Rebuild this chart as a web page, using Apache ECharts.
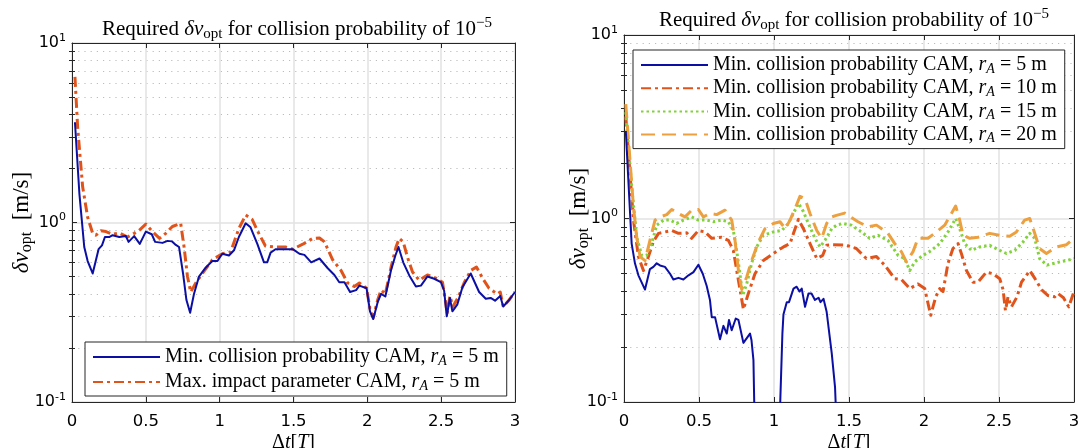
<!DOCTYPE html>
<html><head><meta charset="utf-8">
<script src="https://cdn.jsdelivr.net/npm/echarts@6/dist/echarts.min.js"></script>
<style>html,body{margin:0;padding:0;background:#fff}#c{width:1079px;height:448px}</style>
</head><body><div id="c"></div><script>
// ---- data ----
var xTicks = [0, 0.5, 1, 1.5, 2, 2.5, 3];
var yMajor = [0.1, 1, 10];
var yMinor = [0.2,0.3,0.4,0.5,0.6,0.7,0.8,0.9,2,3,4,5,6,7,8,9];

var leftMinPc = [[0.02,3.62],[0.05,1.45],[0.083,0.73],[0.106,0.61],[0.14,0.52],[0.18,0.71],[0.203,0.745],[0.223,0.83],[0.252,0.83],[0.275,0.85],[0.32,0.83],[0.365,0.84],[0.383,0.78],[0.421,0.84],[0.459,0.76],[0.5,0.89],[0.54,0.86],[0.563,0.78],[0.613,0.77],[0.647,0.79],[0.676,0.785],[0.703,0.75],[0.725,0.73],[0.752,0.52],[0.775,0.37],[0.8,0.314],[0.826,0.4],[0.86,0.5],[0.905,0.56],[0.95,0.61],[0.985,0.61],[1.018,0.67],[1.063,0.655],[1.097,0.7],[1.13,0.83],[1.176,0.99],[1.209,0.94],[1.255,0.76],[1.3,0.6],[1.322,0.6],[1.345,0.68],[1.378,0.71],[1.446,0.71],[1.495,0.71],[1.54,0.67],[1.574,0.66],[1.62,0.6],[1.676,0.63],[1.732,0.556],[1.777,0.51],[1.81,0.465],[1.845,0.465],[1.883,0.41],[1.924,0.42],[1.946,0.445],[1.995,0.43],[2.018,0.32],[2.04,0.29],[2.07,0.36],[2.093,0.4],[2.122,0.387],[2.16,0.54],[2.19,0.655],[2.211,0.73],[2.243,0.6],[2.284,0.507],[2.329,0.44],[2.363,0.445],[2.407,0.5],[2.453,0.486],[2.498,0.465],[2.52,0.418],[2.538,0.3],[2.559,0.38],[2.576,0.32],[2.61,0.35],[2.644,0.436],[2.7,0.52],[2.757,0.41],[2.802,0.376],[2.835,0.38],[2.865,0.367],[2.9,0.39],[2.92,0.34],[2.96,0.37],[3.0,0.41]];
var leftMaxIp = [[0.02,6.47],[0.038,3.41],[0.072,1.58],[0.106,1.07],[0.14,0.87],[0.162,0.85],[0.196,0.9],[0.23,0.89],[0.275,0.86],[0.32,0.875],[0.376,0.83],[0.421,0.87],[0.455,0.905],[0.5,0.98],[0.545,0.89],[0.593,0.815],[0.635,0.87],[0.68,0.95],[0.736,0.99],[0.759,0.73],[0.782,0.5],[0.804,0.41],[0.838,0.46],[0.883,0.52],[0.95,0.62],[1.018,0.67],[1.074,0.685],[1.13,0.925],[1.176,1.1],[1.22,1.04],[1.265,0.87],[1.31,0.74],[1.378,0.73],[1.446,0.73],[1.495,0.71],[1.563,0.757],[1.63,0.815],[1.676,0.82],[1.71,0.78],[1.765,0.62],[1.822,0.54],[1.867,0.46],[1.912,0.44],[1.946,0.46],[1.995,0.43],[2.018,0.33],[2.04,0.295],[2.07,0.37],[2.093,0.42],[2.122,0.4],[2.16,0.56],[2.194,0.73],[2.216,0.815],[2.243,0.78],[2.272,0.64],[2.306,0.53],[2.351,0.477],[2.407,0.51],[2.464,0.49],[2.509,0.465],[2.532,0.35],[2.54,0.31],[2.559,0.39],[2.58,0.34],[2.62,0.39],[2.655,0.46],[2.7,0.54],[2.739,0.565],[2.78,0.49],[2.824,0.43],[2.88,0.4],[2.9,0.41],[2.92,0.34],[2.96,0.37],[3.0,0.41]];

var rightR5 = [[0.012,3.0],[0.051,0.73],[0.073,0.57],[0.096,0.49],[0.14,0.41],[0.173,0.53],[0.196,0.545],[0.218,0.57],[0.24,0.555],[0.273,0.545],[0.307,0.5],[0.329,0.465],[0.363,0.475],[0.396,0.465],[0.43,0.49],[0.463,0.51],[0.496,0.56],[0.525,0.5],[0.551,0.43],[0.573,0.36],[0.585,0.29],[0.607,0.29],[0.64,0.22],[0.663,0.26],[0.685,0.236],[0.7,0.28],[0.718,0.246],[0.745,0.285],[0.763,0.28],[0.796,0.21],[0.84,0.236],[0.85,0.217],[0.863,0.169],[0.875,0.05],[1.03,0.05],[1.056,0.236],[1.063,0.3],[1.085,0.35],[1.1,0.35],[1.13,0.415],[1.151,0.425],[1.17,0.4],[1.185,0.415],[1.207,0.33],[1.23,0.39],[1.25,0.39],[1.273,0.36],[1.297,0.37],[1.31,0.35],[1.33,0.365],[1.351,0.31],[1.385,0.184],[1.407,0.12],[1.43,0.04]];
var rightR10 = [[0.012,3.6],[0.063,0.98],[0.096,0.62],[0.13,0.52],[0.163,0.62],[0.196,0.75],[0.23,0.83],[0.273,0.845],[0.318,0.86],[0.363,0.83],[0.418,0.835],[0.451,0.78],[0.496,0.86],[0.54,0.845],[0.585,0.78],[0.651,0.79],[0.696,0.76],[0.729,0.67],[0.763,0.46],[0.796,0.32],[0.829,0.39],[0.873,0.5],[0.929,0.59],[0.996,0.645],[1.063,0.7],[1.107,0.73],[1.13,0.83],[1.163,0.99],[1.196,0.88],[1.24,0.73],[1.285,0.605],[1.325,0.63],[1.351,0.715],[1.393,0.72],[1.483,0.715],[1.549,0.686],[1.616,0.605],[1.683,0.62],[1.738,0.557],[1.805,0.47],[1.85,0.465],[1.905,0.415],[1.96,0.44],[2.005,0.415],[2.027,0.344],[2.045,0.297],[2.078,0.374],[2.105,0.415],[2.127,0.4],[2.16,0.57],[2.193,0.686],[2.227,0.73],[2.249,0.645],[2.283,0.52],[2.327,0.45],[2.36,0.45],[2.416,0.51],[2.46,0.5],[2.505,0.47],[2.527,0.41],[2.543,0.315],[2.56,0.374],[2.583,0.33],[2.62,0.374],[2.65,0.45],[2.705,0.52],[2.74,0.47],[2.783,0.41],[2.827,0.38],[2.871,0.374],[2.893,0.39],[2.93,0.37],[2.965,0.33],[3.0,0.4]];
var rightR15 = [[0.012,3.8],[0.051,1.49],[0.085,0.79],[0.118,0.63],[0.151,0.63],[0.185,0.73],[0.218,0.92],[0.263,0.98],[0.307,0.98],[0.351,0.94],[0.396,0.98],[0.451,1.02],[0.496,0.98],[0.551,0.98],[0.596,0.96],[0.651,0.98],[0.696,0.96],[0.729,0.86],[0.751,0.67],[0.773,0.5],[0.791,0.38],[0.818,0.44],[0.851,0.57],[0.885,0.7],[0.929,0.81],[0.996,0.845],[1.051,0.86],[1.096,0.94],[1.129,1.065],[1.163,1.21],[1.196,1.09],[1.229,0.94],[1.273,0.78],[1.307,0.7],[1.34,0.76],[1.385,0.88],[1.418,0.92],[1.46,0.94],[1.516,0.92],[1.583,0.845],[1.638,0.78],[1.693,0.81],[1.76,0.76],[1.827,0.63],[1.871,0.605],[1.905,0.52],[1.938,0.58],[1.993,0.63],[2.038,0.66],[2.105,0.73],[2.16,0.845],[2.211,1.0],[2.238,0.88],[2.271,0.73],[2.316,0.67],[2.371,0.7],[2.438,0.715],[2.505,0.67],[2.549,0.645],[2.605,0.67],[2.66,0.745],[2.705,0.83],[2.738,0.78],[2.771,0.605],[2.82,0.557],[2.905,0.58],[2.95,0.59],[3.0,0.605]];
var rightR20 = [[0.012,4.2],[0.063,1.16],[0.085,0.79],[0.107,0.62],[0.14,0.59],[0.173,0.76],[0.207,0.98],[0.24,1.02],[0.285,1.05],[0.318,1.12],[0.363,1.065],[0.407,1.02],[0.451,1.11],[0.496,1.12],[0.529,1.02],[0.573,1.065],[0.618,1.05],[0.673,1.11],[0.718,0.98],[0.74,0.76],[0.763,0.52],[0.785,0.41],[0.818,0.48],[0.851,0.59],[0.896,0.745],[0.94,0.88],[0.996,0.94],[1.04,0.96],[1.075,0.88],[1.107,0.98],[1.14,1.13],[1.173,1.32],[1.207,1.28],[1.24,1.065],[1.285,0.86],[1.318,0.78],[1.351,0.94],[1.385,1.02],[1.416,1.04],[1.471,1.07],[1.56,0.96],[1.627,0.9],[1.683,0.92],[1.76,0.83],[1.805,0.73],[1.849,0.66],[1.883,0.58],[1.927,0.66],[1.96,0.78],[2.027,0.78],[2.083,0.845],[2.138,0.92],[2.183,1.065],[2.211,1.17],[2.238,0.98],[2.26,0.81],[2.305,0.78],[2.36,0.79],[2.438,0.83],[2.505,0.81],[2.571,0.8],[2.616,0.845],[2.671,0.98],[2.705,1.0],[2.738,0.83],[2.771,0.686],[2.816,0.645],[2.883,0.7],[2.95,0.72],[3.0,0.78]];

var legendLeft = {L1: 'Min. collision probability CAM, {i|r}{sub|A} = 5 m', L2: 'Max. impact parameter CAM, {i|r}{sub|A} = 5 m'};
var legendRight = {R1: 'Min. collision probability CAM, {i|r}{sub|A} = 5 m', R2: 'Min. collision probability CAM, {i|r}{sub|A} = 10 m', R3: 'Min. collision probability CAM, {i|r}{sub|A} = 15 m', R4: 'Min. collision probability CAM, {i|r}{sub|A} = 20 m'};
var titleText = 'Required {i|δv}{sub|opt} for collision probability of 10{sup|−5}';
var yName = '{i|δv}{sub|opt}\u2002[m/s]';
var xName = 'Δ{i|t}[{i|T}]';

// ---- styles ----
var SERIF = 'Liberation Serif';
var SANS = 'DejaVu Sans';
var AX = '#262626';
var C_BLUE = '#0b0fa3', C_RED = '#e0541c', C_GREEN = '#82d23c', C_ORANGE = '#eda03f';
var FS = 20, TFS = 21;
var serifRich = {
  i: {fontFamily: SERIF, fontStyle: 'italic', fontSize: TFS, color: '#000'},
  sub: {fontFamily: SERIF, fontSize: 15, color: '#000', padding: [10, 0, 0, 0]},
  sup: {fontFamily: SERIF, fontSize: 15, color: '#000', padding: [0, 0, 11, 0]}
};
var legRich = {
  i: {fontFamily: SERIF, fontStyle: 'italic', fontSize: FS, color: '#000', lineHeight: 20},
  sub: {fontFamily: SERIF, fontStyle: 'italic', fontSize: 14, color: '#000', lineHeight: 12, padding: [8, 0, 0, 0]}
};
var tickRich = {
  b: {fontFamily: SANS, fontSize: 16, color: '#000'},
  sup: {fontFamily: SANS, fontSize: 11, color: '#000', padding: [0, 0, 10, 0]}
};

function supLabel(v) {
  var e = Math.round(Math.log10(v));
  return '{b|10}{sup|' + (e < 0 ? '-' : '') + Math.abs(e) + '}';
}

var xAxes = [], yAxes = [];
function addAxes(gi, yGap) {
  xAxes.push({
    type: 'value', gridIndex: gi, min: 0, max: 3, interval: 0.5, position: 'bottom',
    axisLine: {show: true, onZero: false, lineStyle: {color: AX, width: 1}},
    axisTick: {show: true, inside: true, length: 5, lineStyle: {color: AX}},
    axisLabel: {fontFamily: SANS, fontSize: 16.5, color: '#000', margin: 11},
    splitLine: {show: true, lineStyle: {color: '#e2e2e2', width: 1.5}},
    name: xName, nameLocation: 'middle', nameGap: 31, nameMoveOverlap: false,
    nameTextStyle: {fontFamily: SERIF, fontSize: FS, color: '#000', rich: {i: {fontFamily: SERIF, fontStyle: 'italic', fontSize: FS, color: '#000'}}}
  });
  xAxes.push({
    type: 'value', gridIndex: gi, min: 0, max: 3, interval: 0.5, position: 'top',
    axisLine: {show: true, onZero: false, lineStyle: {color: AX, width: 1}},
    axisTick: {show: true, inside: true, length: 5, lineStyle: {color: AX}},
    axisLabel: {show: false}, splitLine: {show: false}
  });
  var base = {type: 'log', logBase: 10, gridIndex: gi, min: 0.1, max: 10};
  yAxes.push(Object.assign({}, base, {
    position: 'left',
    axisLine: {show: true, onZero: false, lineStyle: {color: AX, width: 1}},
    axisTick: {show: true, inside: true, length: 5, lineStyle: {color: AX}, customValues: yMajor},
    axisLabel: {customValues: yMajor, formatter: supLabel, margin: 6, rich: tickRich, fontFamily: SANS, fontSize: 16, color: '#000'},
    splitLine: {show: true, lineStyle: {color: '#e2e2e2', width: 1.5}},
    minorTick: {show: false},
    name: yName, nameLocation: 'middle', nameRotate: 90, nameGap: yGap, nameMoveOverlap: false,
    nameTextStyle: {fontFamily: SERIF, fontSize: 23, color: '#000', rich: {
      i: {fontFamily: SERIF, fontStyle: 'italic', fontSize: 23, color: '#000'},
      sub: {fontFamily: SERIF, fontSize: 16, color: '#000', padding: [10, 0, 0, 0]}}}
  }));
  yAxes.push(Object.assign({}, base, {
    position: 'left',
    axisLine: {show: false},
    axisTick: {show: true, inside: true, length: 3, lineStyle: {color: AX}, customValues: yMinor},
    axisLabel: {show: false},
    splitLine: {show: true, lineStyle: {color: '#bcbcbc', width: 1, type: [1.2, 5]}}
  }));
  yAxes.push(Object.assign({}, base, {
    position: 'right',
    axisLine: {show: true, onZero: false, lineStyle: {color: AX, width: 1}},
    axisTick: {show: true, inside: true, length: 5, lineStyle: {color: AX}, customValues: yMajor},
    axisLabel: {show: false}, splitLine: {show: false}
  }));
  yAxes.push(Object.assign({}, base, {
    position: 'right',
    axisLine: {show: false},
    axisTick: {show: true, inside: true, length: 3, lineStyle: {color: AX}, customValues: yMinor},
    axisLabel: {show: false}, splitLine: {show: false}
  }));
}
addAxes(0, 37); addAxes(1, 32);

function line(name, gi, data, color, width, type, z) {
  return {
    name: name, type: 'line', xAxisIndex: gi * 2, yAxisIndex: gi * 4, data: data,
    symbol: 'none', showSymbol: false, smooth: false, clip: true, z: z || 2,
    lineStyle: {color: color, width: width, type: type, cap: 'butt', join: 'round'},
    itemStyle: {color: color}
  };
}

function legend(names, fmt, left, top, gap) {
  return {
    data: names, orient: 'vertical', left: left, top: top, itemWidth: 67, itemHeight: 12, itemGap: gap,
    padding: [4, 8, 3, 7], borderColor: AX, borderWidth: 1, backgroundColor: '#fff', borderRadius: 0,
    itemStyle: {opacity: 0, borderWidth: 0},
    formatter: function (n) { return fmt[n]; }, selectedMode: false,
    textStyle: {fontFamily: SERIF, fontSize: FS, color: '#000', lineHeight: 20, rich: legRich}
  };
}

var option = {
  animation: false,
  backgroundColor: '#fff',
  title: [
    {text: titleText, left: 292, top: 11, textAlign: 'center',
     textStyle: {fontFamily: SERIF, fontSize: TFS, fontWeight: 'normal', color: '#000', rich: serifRich}},
    {text: titleText, left: 849, top: 2, textAlign: 'center',
     textStyle: {fontFamily: SERIF, fontSize: TFS, fontWeight: 'normal', color: '#000', rich: serifRich}}
  ],
  grid: [
    {left: 72, top: 43, width: 443, height: 359, containLabel: false, outerBoundsMode: 'none'},
    {left: 624, top: 35, width: 450, height: 367, containLabel: false, outerBoundsMode: 'none'}
  ],
  xAxis: xAxes,
  yAxis: yAxes,
  legend: [
    legend(['L1', 'L2'], legendLeft, 85, 342, 3),
    legend(['R1', 'R2', 'R3', 'R4'], legendRight, 633, 50, 1.2)
  ],
  series: [
    line('L1', 0, leftMinPc, C_BLUE, 2, 'solid', 3),
    line('L2', 0, leftMaxIp, C_RED, 3, [10, 4, 3, 4], 2),
    line('R1', 1, rightR5, C_BLUE, 2, 'solid', 3),
    line('R2', 1, rightR10, C_RED, 3, [10, 4, 3, 4], 2),
    line('R3', 1, rightR15, C_GREEN, 3, [2.5, 3], 2),
    line('R4', 1, rightR20, C_ORANGE, 3, [14, 7], 2)
  ]
};
var chart = echarts.init(document.getElementById('c'), null, {renderer: 'canvas'});
chart.setOption(option);
</script></body></html>
